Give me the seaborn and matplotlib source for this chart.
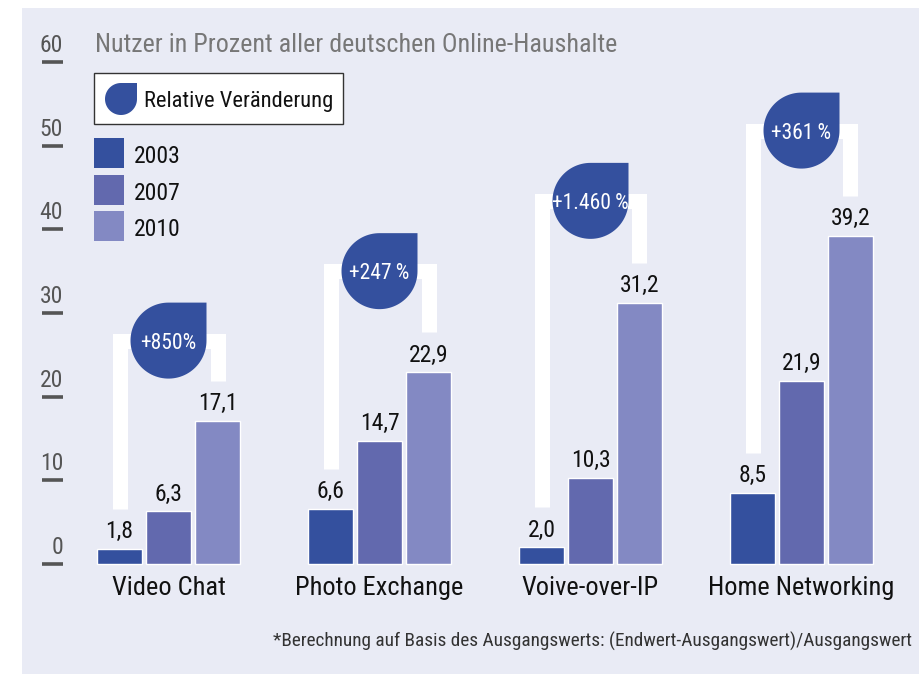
import numpy as np
import pandas as pd
import matplotlib.pyplot as plt
import matplotlib.transforms as mtransforms
from matplotlib import font_manager
from matplotlib.patches import Rectangle, Polygon
import seaborn as sns

# Daten
categories = ["Video Chat", "Photo Exchange", "Voive-over-IP", "Home Networking"]
years = ["2003", "2007", "2010"]
share_2003 = [1.8, 6.6, 2.0, 8.5]
share_2007 = [6.3, 14.7, 10.3, 21.9]
share_2010 = [17.1, 22.9, 31.2, 39.2]
change_labels = ["+850%", "+247\u2009%", "+1.460\u2009%", "+361\u2009%"]
y_ticks = [0, 10, 20, 30, 40, 50, 60]

title = "Nutzer in Prozent aller deutschen Online-Haushalte"
footnote = "*Berechnung auf Basis des Ausgangswerts: (Endwert-Ausgangswert)/Ausgangswert"

colors = ["#34509e", "#6269ae", "#8389c3"]
bg = "#e9ebf5"

df = pd.DataFrame({
    "Kategorie": categories * 3,
    "Jahr": [y for y in years for _ in categories],
    "Anteil": share_2003 + share_2007 + share_2010,
})

sns.set_theme(style="white")

# schmale Schrift, falls vorhanden
installed = {f.name for f in font_manager.fontManager.ttflist}
narrow = [n for n in ["Roboto Condensed", "Liberation Sans Narrow", "Open Sans Condensed"]
          if n in installed]
if narrow:
    plt.rcParams["font.family"] = [narrow[0], "DejaVu Sans"]
    k = 1.0
else:
    plt.rcParams["font.family"] = ["Liberation Sans", "DejaVu Sans"]
    k = 0.88

W, H = 919, 674
fig = plt.figure(figsize=(W / 100, H / 100), dpi=100, facecolor="white")
ax = fig.add_axes([22 / W, 0, (W - 22) / W, (H - 8) / H])
ax.set_facecolor(bg)

# Geometrie: 211 px je Gruppe, 8.367 px je Prozentpunkt
x0, dx = 168.5, 211.0
y0, dy = 564.0, 8.367
group_w = 147 / 211
slot = group_w / 3

sns.barplot(data=df, x="Kategorie", y="Anteil", hue="Jahr", hue_order=years,
            palette=dict(zip(years, colors)), width=group_w, gap=4 / 49,
            saturation=1, errorbar=None, legend=False, ax=ax)

ax.set_xlim((22 - x0) / dx, (W - x0) / dx)
ax.set_ylim((y0 - H) / dy, (y0 - 8) / dy)
for s in ax.spines.values():
    s.set_visible(False)
ax.set_xticks([])
ax.set_yticks([])
ax.set_xlabel("")
ax.set_ylabel("")

# Pixelkoordinaten der Vorlage (y nach unten)
pix = mtransforms.Affine2D().scale(1 / W, -1 / H).translate(0, 1) + fig.transFigure


def drop(cx, cy, rx, ry, transform):
    t = np.linspace(np.pi / 2, 2 * np.pi, 80)
    pts = [(cx + rx, cy + ry)] + list(zip(cx + rx * np.cos(t), cy + ry * np.sin(t)))
    return Polygon(pts, closed=True, facecolor=colors[0], edgecolor="none",
                   transform=transform, zorder=4)


# y-Achse
for t in y_ticks:
    ax.plot([(42 - x0) / dx, (63 - x0) / dx], [t, t], color="#555555", lw=2.6,
            solid_capstyle="butt")
    ax.text((63 - x0) / dx, t + 10 / dy, str(t), ha="right", va="baseline",
            fontsize=17 * k, color="#555555")

# Werte
for cont, vals in zip(ax.containers, [share_2003, share_2007, share_2010]):
    ax.bar_label(cont, labels=[f"{v:.1f}".replace(".", ",") for v in vals],
                 padding=4, fontsize=17 * k, color="#111111")

# Kategorien
for i, cat in enumerate(categories):
    ax.text(i, (y0 - 595) / dy, cat, ha="center", va="baseline", fontsize=19 * k,
            color="#111111")

# Klammern + Tropfen
bracket_tops = [26.7, 35.0, 43.4, 51.8]
for i in range(len(categories)):
    xl, xr = i - slot, i + slot
    top = bracket_tops[i]
    ax.plot([xl, xl, xr, xr], [share_2003[i] + 4.8, top, top, share_2010[i] + 4.8],
            color="white", lw=15 * 0.72, solid_joinstyle="miter",
            solid_capstyle="butt", zorder=3)
    ax.add_patch(drop(i, top, 38 / dx, 38 / dy, ax.transData))
    ax.text(i, top - 8 / dy, change_labels[i], ha="center", va="baseline",
            fontsize=15.5 * k, color="white", zorder=5)

# Titel
ax.text(95, 52, title, transform=pix, ha="left", va="baseline", fontsize=18.7 * k,
        color="#777777")

# Legende
ax.add_patch(Rectangle((94, 73), 249, 51, transform=pix, facecolor="white",
                       edgecolor="#333333", lw=1, zorder=4))
ax.add_patch(drop(121, 99, 16, -16, pix))
ax.text(144, 107, "Relative Veränderung", transform=pix, ha="left",
        va="baseline", fontsize=16.2 * k, color="#111111", zorder=5)
for j, (yr, c) in enumerate(zip(years, colors)):
    ytop = 138 + 36.5 * j
    ax.add_patch(Rectangle((94, ytop), 30, 30, transform=pix, facecolor=c,
                           edgecolor="none"))
    ax.text(134, ytop + 25, yr, transform=pix, ha="left", va="baseline",
            fontsize=17 * k, color="#111111")

# Fußnote
ax.text(912, 647, footnote, transform=pix, ha="right", va="baseline",
        fontsize=13.9 * k, color="#333333")

fig.savefig("out.png", dpi=100, facecolor="white")
